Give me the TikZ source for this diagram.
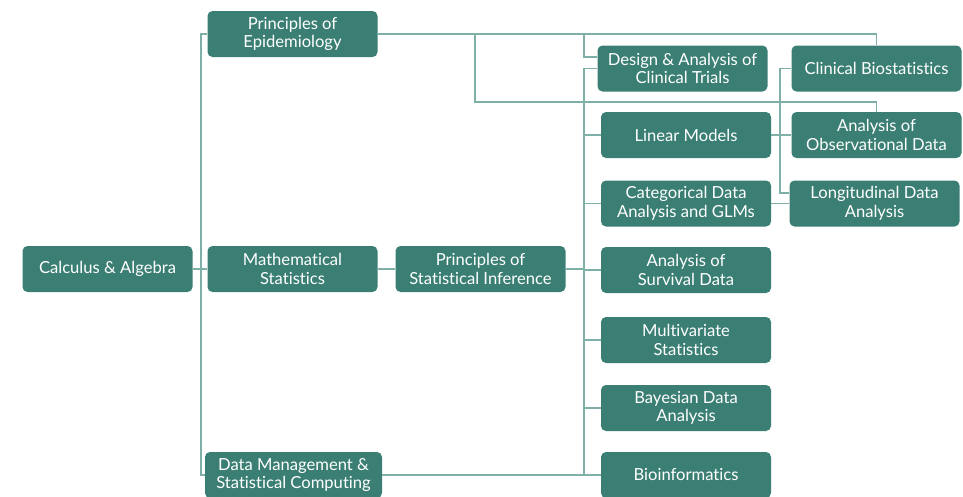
\documentclass[tikz,border=0pt]{standalone}
\usepackage{fontspec}
\setmainfont{Lato}[RawFeature=-liga]
\definecolor{boxteal}{HTML}{3B7F74}
\definecolor{lineteal}{HTML}{7FB0A8}
\begin{document}
\begin{tikzpicture}[x=1pt, y=-1pt,
    course/.style={draw=none, fill=boxteal, text=white, rounded corners=5pt,
      minimum width=170pt, minimum height=46pt, align=center, inner sep=1pt,
      font=\fontsize{16.6}{18.5}\selectfont},
    link/.style={draw=lineteal, line width=1.4pt}]
      \useasboundingbox (0, 0) rectangle (963, 496);
      % left column
      \node (calc) [course] at (107.5, 269) {Calculus \& Algebra};
      \node (epi) [course] at (292.5, 34) {Principles of\\Epidemiology};
      \node (mathstat) [course] at (292.5, 269) {Mathematical\\Statistics};
      \node (datamgmt) [course, minimum width=177pt] at (293.5, 475) {Data Management \&\\Statistical Computing};
      \node (infer) [course] at (480.5, 269) {Principles of\\Statistical Inference};
      % middle column
      \node (design) [course] at (682.5, 68.5) {Design \& Analysis of\\Clinical Trials};
      \node (linmod) [course] at (686, 135) {Linear Models};
      \node (categ) [course] at (686, 203.5) {Categorical Data\\Analysis and GLMs};
      \node (surv) [course] at (686, 270) {Analysis of\\Survival Data};
      \node (multi) [course] at (686, 340) {Multivariate\\Statistics};
      \node (bayes) [course] at (686, 408) {Bayesian Data\\Analysis};
      \node (bioinf) [course] at (686, 475) {Bioinformatics};
      % right column
      \node (clinbio) [course] at (876.5, 68.5) {Clinical Biostatistics};
      \node (obsdata) [course] at (876.5, 135) {Analysis of\\Observational Data};
      \node (longit) [course] at (874.5, 203.5) {Longitudinal Data\\Analysis};
      % junctions
      \coordinate (calcJ) at (201, 269);
      \coordinate (epiD) at (584, 57);
      \coordinate (epiO) at (475, 102);
      \coordinate (infJ) at (584, 269);
      \coordinate (linJ) at (780, 135);
      \coordinate (linL) at (780, 193);
      \draw[link] (calc) -- (mathstat);
      \draw[link] (mathstat) -- (infer);
      \draw[link] (calc.east) -- (calcJ) |- (epi.west);
      \draw[link] (calcJ) |- (datamgmt.west);
      \draw[link] (epi.east) -| (epiD) -- (epiD -| design.west);
      \draw[link] (epi.east) -| (clinbio.north);
      \draw[link] (epi.east) -| (epiO) -| (obsdata.north);
      \draw[link] (infer.east) -- (infJ) |- (design.west);
      \foreach \c in {linmod, categ, surv, multi, bayes, bioinf}
        \draw[link] (infJ) |- (\c.west);
      \draw[link] (datamgmt) -- (bioinf);
      \draw[link] (linmod) -- (obsdata);
      \draw[link] (linJ) |- (clinbio.west);
      \draw[link] (linJ) -- (linL) -- (linL -| longit.west);
      \draw[link] (categ) -- (longit);
\end{tikzpicture}
\end{document}
